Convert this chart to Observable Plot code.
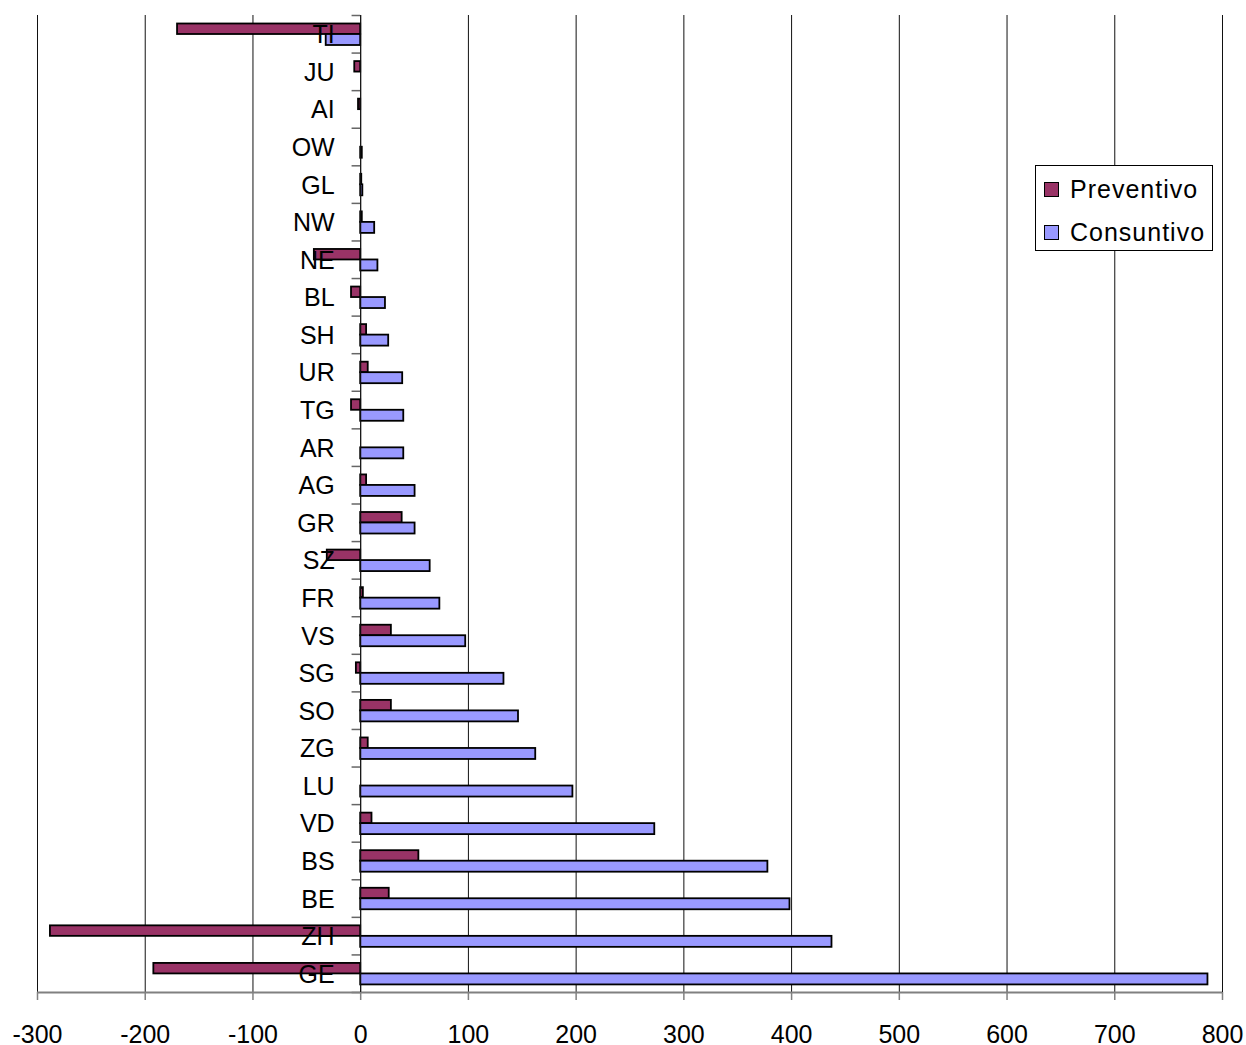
<!DOCTYPE html>
<html>
<head>
<meta charset="utf-8">
<script src="https://cdn.jsdelivr.net/npm/d3@7"></script>
<script src="https://cdn.jsdelivr.net/npm/@observablehq/plot@0.6"></script>
<style>
  html, body { margin: 0; padding: 0; background: #fff; overflow: hidden; }
  #chart { position: relative; width: 1246px; height: 1045px; font-family: "Liberation Sans", Arial, sans-serif; }
  #chart svg { display: block; }
  .legend { position: absolute; left: 1035px; top: 165px; width: 176px; height: 84px;
            border: 1px solid #000; background: #fff; }
  .legend .item { position: absolute; left: 8px; display: flex; align-items: center;
                  font-size: 25px; letter-spacing: 1px; color: #000; line-height: 30px; }
  .legend .sw { width: 13px; height: 13px; border: 1.5px solid #000; margin-right: 11px; }
</style>
</head>
<body>
<div id="chart"></div>
<script>
// Cantons, top to bottom
const regions = ["TI","JU","AI","OW","GL","NW","NE","BL","SH","UR","TG","AR","AG",
                 "GR","SZ","FR","VS","SG","SO","ZG","LU","VD","BS","BE","ZH","GE"];
// Budget (Preventivo) and accounts (Consuntivo) per canton
const preventivo = [-170, -5.5, -2, 0, 1, 1.5, -43, -8.5, 5.5, 7, -8.5, 0, 5.5,
                    38.5, -31, 2.5, 28.5, -4, 28.5, 7, 0, 10.5, 54, 26.5, -288, -192];
const consuntivo = [-32, 0, 0, 1.5, 2, 13, 16, 23, 26, 39, 40, 40, 50.5,
                    50.5, 64.5, 73.5, 97.5, 133, 146.5, 162.5, 197, 273, 378, 398.5, 437.5, 786.5];
const xTicks = [-300, -200, -100, 0, 100, 200, 300, 400, 500, 600, 700, 800];
const seriesNames = ["Preventivo", "Consuntivo"];
const seriesColors = ["#993366", "#9999FF"];

const table = regions.flatMap((r, i) => [
  {region: r, series: seriesNames[0], value: preventivo[i]},
  {region: r, series: seriesNames[1], value: consuntivo[i]}
]);

const W = 1246, H = 1045, mt = 15, mb = 53;
const band = (H - mt - mb) / regions.length;

const chart = Plot.plot({
  width: W,
  height: H,
  marginLeft: 37,
  marginRight: 24,
  marginTop: mt,
  marginBottom: mb,
  style: {fontFamily: "Liberation Sans, Arial, sans-serif", fontSize: "25px", background: "white", color: "black"},
  x: {domain: [-300, 800], axis: null},
  y: {domain: regions, padding: 0, round: false, axis: null},
  marks: [
    // vertical gridlines
    Plot.ruleX(xTicks, {stroke: "#111", strokeWidth: 1}),
    // category separators on the zero axis
    Plot.ruleY(regions, {y: d => d, x1: -8, x2: 0, dy: -band / 2, stroke: "#666", strokeWidth: 1.5}),
    Plot.ruleY(regions.slice(-1), {y: d => d, x1: -8, x2: 0, dy: band / 2, stroke: "#666", strokeWidth: 1.5}),
    // bottom axis line
    Plot.ruleY(regions.slice(-1), {y: d => d, x1: -300, x2: 800, dy: band / 2, stroke: "#808080", strokeWidth: 2}),
    // bars
    Plot.barX(table.filter(d => d.series === seriesNames[0] && d.value !== 0), {
      x: "value", y: "region", fill: seriesColors[0], stroke: "black", strokeWidth: 1.8,
      insetTop: 8.5, insetBottom: band - 19
    }),
    Plot.barX(table.filter(d => d.series === seriesNames[1] && d.value !== 0), {
      x: "value", y: "region", fill: seriesColors[1], stroke: "black", strokeWidth: 1.8,
      insetTop: 19, insetBottom: band - 30
    }),
    // zero line
    Plot.ruleX([0], {stroke: "#111", strokeWidth: 1}),
    // canton labels, drawn over the bars
    Plot.text(regions, {x: 0, y: d => d, text: d => d, textAnchor: "end", dx: -26, dy: 1,
                        fontSize: 25, fill: "black"}),
    // x axis
    Plot.axisX(xTicks, {tickSize: 8, tickPadding: 25, stroke: "#808080", strokeWidth: 1.5,
                        fontSize: 25, fill: "black", tickFormat: d => String(d), label: null})
  ]
});

const root = document.getElementById("chart");
root.appendChild(chart);

// legend
const legend = document.createElement("div");
legend.className = "legend";
seriesNames.forEach((name, i) => {
  const item = document.createElement("div");
  item.className = "item";
  item.style.top = (i === 0 ? 8 : 51) + "px";
  const sw = document.createElement("span");
  sw.className = "sw";
  sw.style.background = seriesColors[i];
  const label = document.createElement("span");
  label.textContent = name;
  item.appendChild(sw);
  item.appendChild(label);
  legend.appendChild(item);
});
root.appendChild(legend);
</script>
</body>
</html>
